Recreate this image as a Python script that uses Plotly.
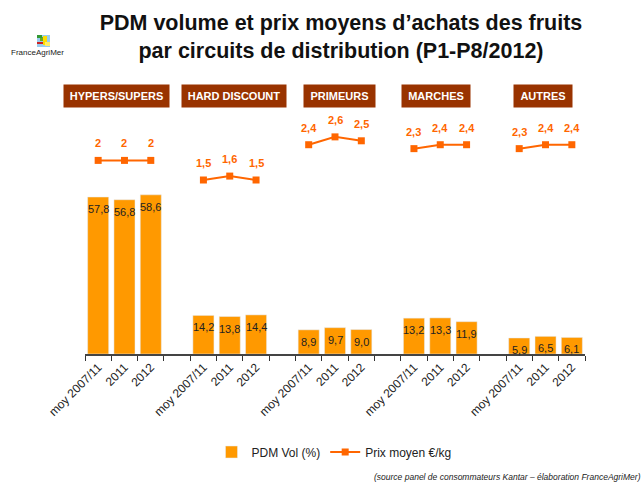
import plotly.graph_objects as go

circuits = ["HYPERS/SUPERS", "HARD DISCOUNT", "PRIMEURS", "MARCHES", "AUTRES"]
periods = ["moy 2007/11", "2011", "2012"]
pdm_vol = {
    "HYPERS/SUPERS": [57.8, 56.8, 58.6],
    "HARD DISCOUNT": [14.2, 13.8, 14.4],
    "PRIMEURS": [8.9, 9.7, 9.0],
    "MARCHES": [13.2, 13.3, 11.9],
    "AUTRES": [5.9, 6.5, 6.1],
}
prix = {
    "HYPERS/SUPERS": [2.0, 2.0, 2.0],
    "HARD DISCOUNT": [1.5, 1.6, 1.5],
    "PRIMEURS": [2.4, 2.6, 2.5],
    "MARCHES": [2.3, 2.4, 2.4],
    "AUTRES": [2.3, 2.4, 2.4],
}

BAR = "#FF9900"
LINE = "#FF6600"
HEAD = "#993300"
FONT = "Liberation Sans, Arial"

# build category slots with an empty slot between groups
cats, ticktext, vols, prices = [], [], [], []
for gi, c in enumerate(circuits):
    for pi, p in enumerate(periods):
        cats.append(f"{c}|{p}")
        ticktext.append(p)
        vols.append(pdm_vol[c][pi])
        prices.append(prix[c][pi])
    if gi < len(circuits) - 1:
        cats.append(f"gap{gi}")
        ticktext.append("")
        vols.append(None)
        prices.append(None)

def fr1(v):
    return f"{v:.1f}".replace(".", ",")

def frg(v):
    return f"{v:g}".replace(".", ",")

def px_to_paper_x(px):
    return (px - 85) / 500

def px_to_paper_y(py):
    return (354 - py) / 244

fig = go.Figure()
fig.add_trace(go.Bar(
    x=cats, y=vols, name="PDM Vol (%)", marker_color=BAR,
    yaxis="y",
))
fig.add_trace(go.Scatter(
    x=cats, y=prices, name="Prix moyen €/kg", mode="lines+markers",
    line=dict(color=LINE, width=2), marker=dict(symbol="square", size=7, color=LINE),
    connectgaps=False, yaxis="y2",
))

annotations = []
# bar value labels, just below the bar top
for x, v in zip(cats, vols):
    if v is None:
        continue
    annotations.append(dict(
        x=x, y=v, xref="x", yref="y", text=fr1(v), showarrow=False,
        yshift=-12, yanchor="middle", font=dict(size=11, color="#222222", family=FONT),
    ))
# price labels above the markers
for x, v in zip(cats, prices):
    if v is None:
        continue
    annotations.append(dict(
        x=x, y=v, xref="x", yref="y2", text=f"<b>{frg(v)}</b>", showarrow=False,
        yshift=17, font=dict(size=11, color=LINE, family=FONT),
    ))

# group headers
head_px = [116.5, 234, 339.5, 436, 543]
head_w = [95, 94, 61, 58, 48]
for c, px, w in zip(circuits, head_px, head_w):
    annotations.append(dict(
        x=px_to_paper_x(px), y=px_to_paper_y(96), xref="paper", yref="paper",
        text=f"<b>{c}</b>", showarrow=False, bgcolor=HEAD, borderpad=5, width=w,
        font=dict(size=11, color="white", family=FONT),
        xanchor="center", yanchor="middle",
    ))

# logo text
annotations.append(dict(
    x=px_to_paper_x(9), y=px_to_paper_y(52), xref="paper", yref="paper",
    xanchor="left", yanchor="middle",
    text="FranceAgriMer", showarrow=False, font=dict(size=8, color="#222", family=FONT),
))
# source
annotations.append(dict(
    x=px_to_paper_x(643), y=px_to_paper_y(477), xref="paper", yref="paper",
    xanchor="right", yanchor="middle",
    text="<i>(source panel de consommateurs Kantar – élaboration FranceAgriMer)</i>", showarrow=False,
    font=dict(size=8.5, color="#222", family=FONT),
))

shapes = []
logo = [
    (37, 35, 50, 47, "#99CCEE"),
    (40, 37, 47, 41, "#66AA22"),
    (43, 36, 47, 45, "#FFDD00"),
    (37, 42, 43, 44, "#CC2222"),
    (45, 42, 50, 46, "#FFEE66"),
    (37, 35, 42, 38, "#339933"),
]
for x0, y0, x1, y1, col in logo:
    shapes.append(dict(type="rect", xref="paper", yref="paper",
                       x0=px_to_paper_x(x0), x1=px_to_paper_x(x1),
                       y0=px_to_paper_y(y1), y1=px_to_paper_y(y0),
                       fillcolor=col, line=dict(width=0), layer="above"))

fig.update_layout(
    width=643, height=484,
    margin=dict(l=85, r=58, t=110, b=130, autoexpand=False),
    paper_bgcolor="white", plot_bgcolor="white",
    font=dict(family=FONT, color="#222"),
    title=dict(
        text="<b>PDM volume et prix moyens d’achats des fruits<br>par circuits de distribution (P1-P8/2012)</b>",
        x=341 / 643, xanchor="center", y=1 - 30 / 484, yanchor="middle",
        font=dict(size=21.5, color="#111", family=FONT),
    ),
    bargap=0.2,
    showlegend=True,
    legend=dict(orientation="h", x=px_to_paper_x(334), xanchor="center",
                y=px_to_paper_y(452), yanchor="middle",
                font=dict(size=12, color="#222"), tracegroupgap=0),
    xaxis=dict(
        type="category", categoryorder="array", categoryarray=cats,
        range=[-0.5, len(cats) - 0.5],
        tickvals=cats, ticktext=ticktext, tickangle=-45, automargin=False,
        tickson="boundaries", ticks="outside", ticklen=5, tickcolor="#333",
        showline=True, linecolor="#444", linewidth=1.5, showgrid=False,
        tickfont=dict(size=12, color="#222"),
    ),
    yaxis=dict(range=[0, 244 / 2.716], visible=False, showgrid=False),
    yaxis2=dict(range=[(238.8 - 354) / 39.2, (238.8 - 110) / 39.2], overlaying="y",
                visible=False, showgrid=False),
    annotations=annotations,
    shapes=shapes,
)

fig.write_html("out.html", config={"displayModeBar": False},
               post_script="document.body.style.margin='0';")
